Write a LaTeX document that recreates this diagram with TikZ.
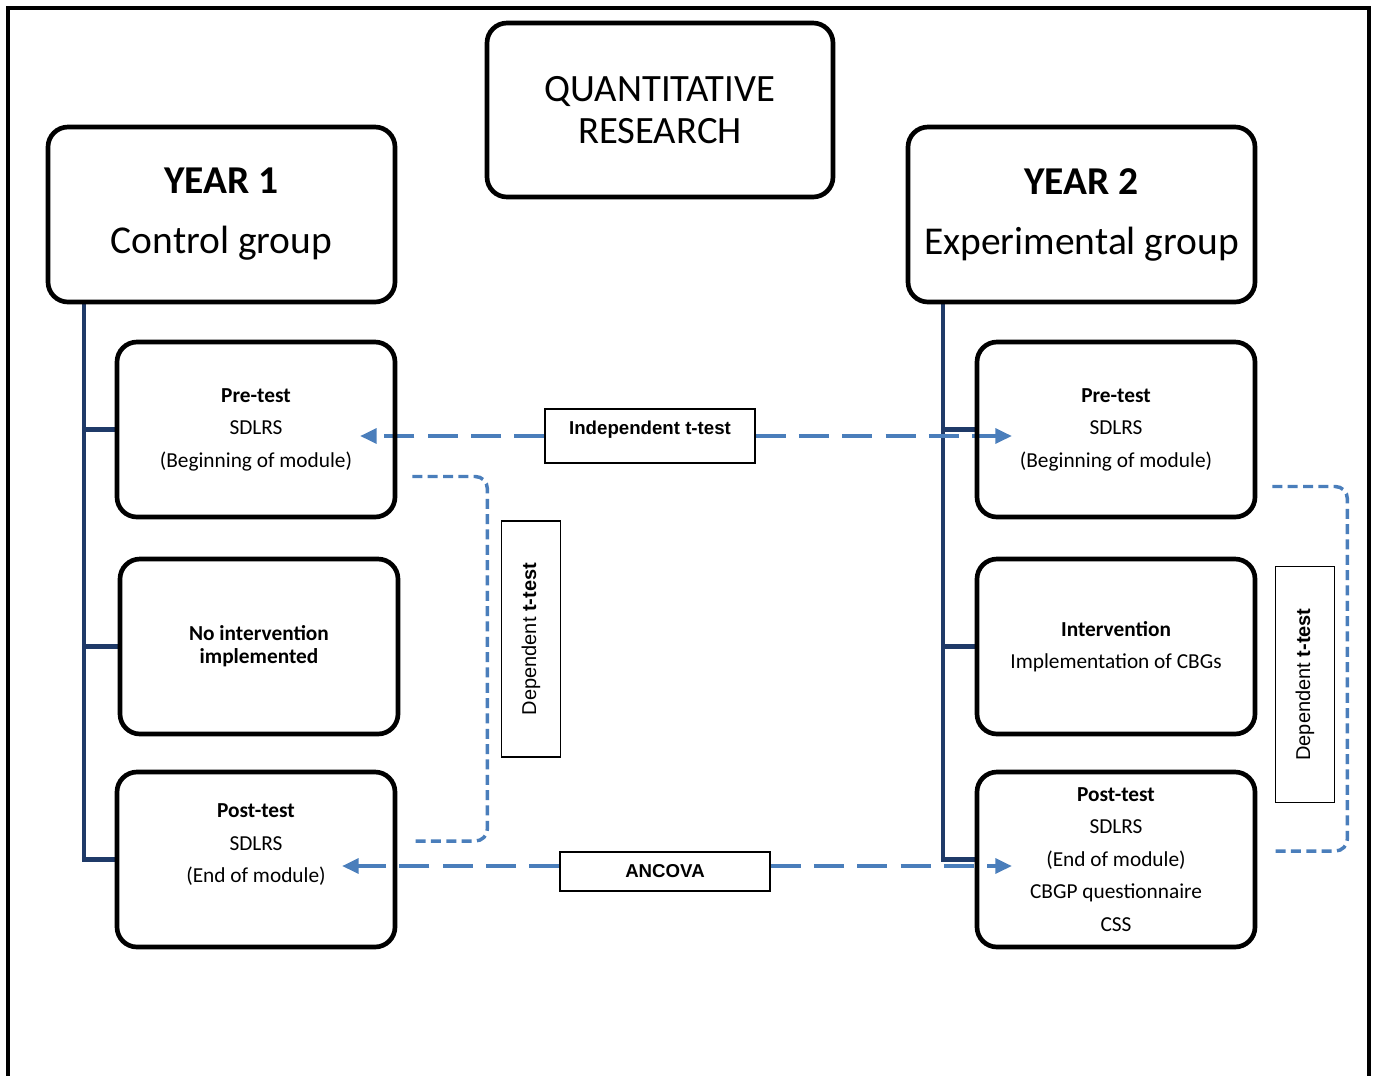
\documentclass[tikz,border=0pt]{standalone}
\usepackage{fontspec}
\setmainfont{Carlito}
\newfontfamily\arialfont{Liberation Sans}
\usepackage{tikz}
\usetikzlibrary{arrows.meta,calc,positioning,backgrounds}
\definecolor{arrowblue}{HTML}{4A7EBB}
\definecolor{treeblue}{HTML}{1F3A68}

\begin{document}
\begin{tikzpicture}[
    x=0.75pt, y=-0.75pt,
    frame/.style={line width=3pt},
    roundbox/.style={draw, line width=3.5pt, rounded corners=15pt, align=center, inner sep=0},
    headbox/.style={roundbox, minimum width=260.25pt, minimum height=131.25pt, font=\fontsize{29.6}{45}\selectfont},
    stepbox/.style={roundbox, minimum width=208.5pt, minimum height=131.25pt, font=\fontsize{16}{24.4}\selectfont},
    testbox/.style={draw, line width=0.8pt, fill=white, minimum width=157.5pt, inner sep=0, font=\arialfont\bfseries\fontsize{14}{17}\selectfont},
    deptest/.style={draw, line width=0.8pt, fill=white, rotate=90, minimum width=177pt, minimum height=44.25pt, inner sep=0, font=\arialfont\fontsize{15}{18}\selectfont},
    tree/.style={treeblue, line width=3.5pt},
    testarrow/.style={arrowblue, line width=3pt, dash pattern=on 22.5pt off 10pt, -{Triangle[length=12.5pt,width=11pt]}},
    depline/.style={arrowblue, line width=2.6pt, dash pattern=on 7.5pt off 4pt, rounded corners=9pt}]
\useasboundingbox (0,0) rectangle (1376,1075);
\draw[frame] (8,1080) |- (1369,8) -- (1369,1080);

\node[roundbox, minimum width=259.5pt, minimum height=130.5pt, font=\fontsize{29}{32}\selectfont] (quant) at (660,110) {QUANTITATIVE\\RESEARCH};
\node[headbox] (year1) at (221.5,214.5) {\textbf{YEAR 1}\\Control group};
\node[headbox] (year2) at (1081.5,214.5) {\textbf{YEAR 2}\\Experimental group};

\node[stepbox] (pre1) at (256,429.5) {\textbf{Pre-test}\\SDLRS\\(Beginning of module)};
\node[stepbox, font=\bfseries\fontsize{16}{17.25}\selectfont] (none1) at (259,646.5) {No intervention\\implemented};
\node[stepbox] (post1) at (256,859.5) {\textbf{Post-test}\\SDLRS\\(End of module)\\\mbox{}};

\node[stepbox] (pre2) at (1116,429.5) {\textbf{Pre-test}\\SDLRS\\(Beginning of module)};
\node[stepbox] (int2) at (1116,646.5) {\textbf{Intervention}\\Implementation of CBGs};
\node[stepbox] (post2) at (1116,859.5) {\textbf{Post-test}\\SDLRS\\(End of module)\\CBGP questionnaire\\CSS};

\node[testbox, minimum height=40.5pt, text height=10pt, text depth=12pt] (indep) at (650,436) {Independent t-test};
\node[testbox, minimum height=29.25pt] (ancova) at (665,871.5) {ANCOVA};
\node[deptest] (dep1) at (531,639) {Dependent \textbf{t-test}};
\node[deptest] (dep2) at (1305,684.5) {Dependent \textbf{t-test}};

\coordinate (indepL) at (360,436);
\coordinate (indepR) at (1012,436);
\coordinate (ancovaL) at (342,866);
\coordinate (ancovaR) at (1012,866);

\begin{scope}[on background layer]
\draw[tree] ([xshift=28.7pt]year1.south west) |- (pre1.west);
\draw[tree] ([xshift=28.7pt]year1.south west) |- (none1.west);
\draw[tree] ([xshift=28.7pt]year1.south west) |- (post1.west);
\draw[tree] ([xshift=28pt]year2.south west) |- (pre2.west);
\draw[tree] ([xshift=28pt]year2.south west) |- (int2.west);
\draw[tree] ([xshift=28pt]year2.south west) |- (post2.west);

\draw[testarrow] (indep.west) -- (indepL);
\draw[testarrow] (indep.east) -- (indepR);
\draw[testarrow] (ancova.west |- ancovaL) -- (ancovaL);
\draw[testarrow] (ancova.east |- ancovaR) -- (ancovaR);
\end{scope}

\draw[depline] ([shift={(15,47)}]pre1.east) -- ++(75,0) |- ([shift={(18,-18.5)}]post1.east);
\draw[depline] ([shift={(15,57)}]pre2.east) -- ++(75,0) |- ([shift={(15,-8.5)}]post2.east);
\end{tikzpicture}
\end{document}
